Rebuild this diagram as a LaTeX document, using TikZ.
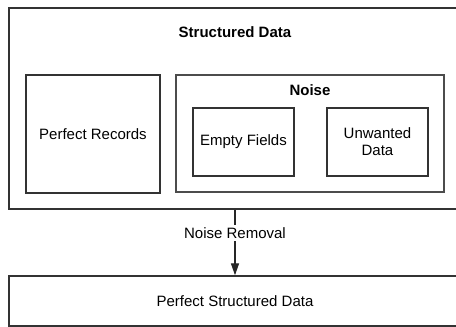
\documentclass[tikz,border=0pt]{standalone}
\usepackage{fontspec}
\setmainfont{Liberation Sans}
\usetikzlibrary{arrows.meta,positioning}

\begin{document}
\begin{tikzpicture}[x=1pt,y=-1pt,font=\fontsize{15}{17}\selectfont,
  box/.style={rectangle,draw=black!80,line width=1.4pt,fill=white,inner sep=0,align=center},
  title/.style={font=\fontsize{15}{17}\selectfont\bfseries},
  flow/.style={-{Triangle[length=12pt,width=8pt]},line width=1.3pt,black!85}]
\clip (0,0) rectangle (456,327);

%% outer container and its contents
\node[box,minimum width=452,minimum height=201] (sd) at (235,108.5) {};
\node[title] (sdt) at (235,32) {Structured Data};
\node[box,minimum width=134,minimum height=118] (pr) at (93,134) {Perfect Records};
\node[box,minimum width=268,minimum height=117,line width=1.2pt,draw=black!70] (ns) at (310,133.5) {};
\node[title] (nst) at (310,90) {Noise};
\node[box,minimum width=101,minimum height=68] (ef) at (243.5,142) {Empty Fields};
\node[box,minimum width=101,minimum height=68] (ud) at (377.5,142) {Unwanted\\Data};

%% result
\node[box,minimum width=452,minimum height=50] (psd) at (235,301) {Perfect Structured Data};

%% removal step
\draw[flow] (sd.south) -- (psd.north);
\node[fill=white,inner sep=2pt] (nr) at (235,233) {Noise Removal};
\end{tikzpicture}
\end{document}
